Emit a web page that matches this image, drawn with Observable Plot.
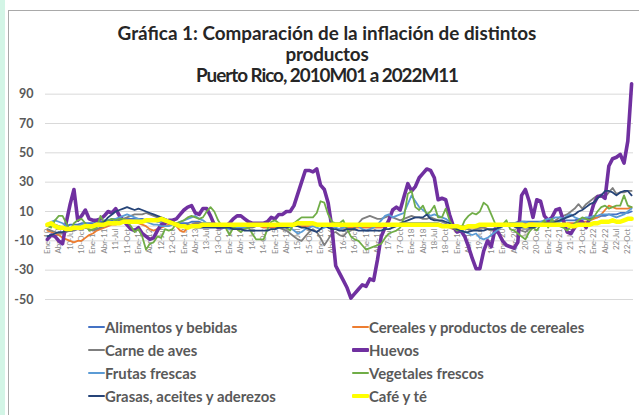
<!DOCTYPE html>
<html><head><meta charset="utf-8">
<script src="https://cdn.jsdelivr.net/npm/d3@7"></script>
<script src="https://cdn.jsdelivr.net/npm/@observablehq/plot@0.6"></script>
<style>
body{margin:0;background:#fff;}
#wrap{position:relative;width:639px;height:415px;overflow:hidden;font-family:Lato,"Open Sans",sans-serif;}
#mint{position:absolute;left:0;top:0;width:5px;height:415px;background:#d3f5e6;}
#frame{position:absolute;left:8px;top:10px;width:640px;height:420px;border-left:1.5px solid #a9a9a9;border-top:1.5px solid #a9a9a9;}
#chart{position:absolute;left:0;top:0;}
.tl{position:absolute;left:8px;width:638px;text-align:center;font-weight:700;color:#262626;white-space:nowrap;line-height:21px;}
.leg{position:absolute;font-weight:700;color:#595959;white-space:nowrap;line-height:16px;}
.sw{position:absolute;height:0;}
</style></head><body>
<div id="wrap">
  <div id="mint"></div>
  <div id="frame"></div>
  <div id="chart"></div>
</div>
<script>
// ---- Data (Puerto Rico, inflación interanual %, 2010M01 .. 2022M11) ----
const tickLabels = ["Ene-10","Abr-10","10-Jul","10-Oct","Ene-11","Abr-11","11-Jul","11-Oct",
  "Ene-12","Abr-12","12-Jul","12-Oct","Ene-13","Abr-13","13-Jul","13-Oct",
  "Ene-14","Abr-14","14-Jul","14-Oct","Ene-15","Abr-15","15-Jul","15-Oct",
  "Ene-16","Abr-16","16-Jul","16-Oct","Ene-17","Abr-17","17-Jul","17-Oct",
  "Ene-18","Abr-18","18-Jul","18-Oct","Ene-19","Abr-19","19-Jul","19-Oct",
  "Ene-20","Abr-20","20-Jul","20-Oct","Ene-21","Abr-21","21-Jul","21-Oct",
  "Ene-22","Abr-22","22-Jul","22-Oct"];
const yTicks = [90, 70, 50, 30, 10, -10, -30, -50];

const alimentos = [
  0,0,1,0,-1,0,1,1,1,2,2,2,
  2,3,3,4,4,4,5,5,5,5,5,5,
  5,5,4,4,4,3,3,3,3,3,2,2,
  2,2,3,3,3,2,2,2,2,1,1,1,
  1,1,1,1,1,1,1,1,1,1,1,1,
  1,1,1,1,1,2,2,2,2,2,1,1,
  1,0,0,0,0,0,-1,-1,-1,-1,0,0,
  0,0,0,0,1,1,1,1,1,1,2,2,
  2,2,2,2,2,2,2,2,1,1,0,0,
  0,0,0,0,0,-1,-1,0,0,0,0,0,
  1,1,2,2,3,3,3,3,3,3,3,3,
  3,3,3,3,4,4,4,4,5,5,5,5,
  6,6,7,7,8,8,8,9,9,9,10];
const cereales = [
  -3,-4,-5,-6,-8,-9,-10,-11,-10,-10,-8,-6,
  -5,-3,-2,-1,0,1,1,2,3,4,4,3,
  2,1,0,-2,-3,-2,-1,0,1,2,0,-3,
  -4,-1,1,2,2,1,1,1,1,0,0,0,
  0,0,0,0,0,0,0,0,0,-1,-1,-1,
  -1,-1,0,0,0,0,0,0,0,0,0,0,
  0,0,0,0,0,0,-1,-1,-1,-1,-1,-1,
  -1,-1,-1,-1,-1,0,0,0,1,1,1,1,
  1,1,1,1,1,1,1,1,1,0,-1,-2,
  -2,-2,-2,-1,-1,-1,-1,-1,0,0,0,0,
  0,0,1,1,2,2,2,2,2,1,1,1,
  1,1,1,1,1,2,2,2,2,3,3,4,
  5,6,8,11,14,13,12,12,12,12,13];
const carneAves = [
  -2,-3,-4,-5,-5,-4,-3,-3,-2,-2,-1,-2,
  -3,-2,-1,0,1,2,3,4,5,6,7,8,
  8,8,9,8,7,6,5,4,3,2,1,0,
  0,1,1,2,2,2,1,1,0,0,0,-1,
  -1,-1,-1,-2,-1,-1,-1,0,0,0,1,0,
  0,-1,-2,-3,-5,-7,-9,-10,-7,-4,-2,-4,
  -8,-13,-9,-5,-4,-6,-7,-4,-3,-1,2,5,
  6,7,6,5,5,6,7,6,5,4,5,6,
  7,6,6,5,5,6,5,4,3,2,0,-2,
  -3,-3,-2,-2,-3,-2,-1,-1,-2,-3,-2,-1,
  0,1,2,0,-2,-3,-4,-2,-1,0,1,0,
  1,2,4,6,7,8,10,12,15,12,15,17,
  19,21,20,20,23,26,22,23,23,24,24];
const huevos = [
  -9,-6,-7,-10,-12,3,15,25,4,7,11,5,
  4,4,5,7,10,9,12,7,4,1,-2,-3,
  -1,-5,-7,-9,-8,-3,1,2,4,4,5,8,
  11,13,14,9,8,12,12,7,1,-1,-1,0,
  2,5,7,7,5,3,2,2,2,2,3,6,
  5,8,8,10,10,14,22,30,38,38,37,39,
  28,25,16,-1,-27,-32,-37,-42,-49,-46,-43,-40,
  -41,-36,-37,-23,-7,-1,4,11,13,11,20,29,
  24,27,33,36,39,38,33,18,19,18,8,0,
  -4,-3,-7,-14,-22,-29,-29,-17,-10,-14,-2,-5,
  -10,-13,-14,-15,-11,21,25,17,6,18,17,7,
  4,6,11,12,4,-4,-5,-1,4,3,-1,6,
  15,20,21,19,41,46,47,49,43,58,97];
const frutas = [
  1,3,4,3,2,0,-2,-1,0,1,2,1,
  0,1,2,3,4,5,5,6,7,8,7,6,
  5,4,3,2,1,1,0,0,0,1,2,3,
  4,5,6,7,5,4,2,1,0,0,-1,-1,
  -2,-2,-1,-1,-1,0,0,0,1,1,0,0,
  0,1,1,0,-1,-3,-5,-4,-2,-1,0,-1,
  -2,-1,0,0,-1,-2,-1,0,1,1,0,-2,
  -3,-2,-1,1,4,7,8,6,7,8,9,15,
  21,17,13,11,9,7,8,7,6,5,3,-1,
  -2,-3,-4,-5,-6,-5,-8,-9,-8,-6,-4,-2,
  0,1,2,2,2,3,3,2,1,2,3,4,
  5,5,6,6,5,7,8,6,5,5,6,6,
  7,7,8,8,8,7,6,7,8,10,12];
const vegetales = [
  0,-1,4,7,7,2,-3,2,4,5,2,-3,
  -2,-1,7,2,4,5,4,5,5,3,0,-4,
  -2,-7,-16,-12,-11,-7,-8,-2,-3,-2,2,3,
  4,6,7,6,5,6,10,13,10,4,0,-1,
  -6,-1,-2,-4,-2,-1,-5,-9,-9,-9,-2,3,
  4,2,0,-1,-3,2,4,6,6,6,6,9,
  17,16,8,3,2,2,4,-2,-7,-9,-10,-13,
  -16,-15,-14,-13,-12,-8,-5,-4,-3,-1,6,22,
  24,13,11,14,8,10,14,6,6,12,4,-1,
  -3,-2,4,7,9,8,10,16,14,8,2,-1,
  1,4,-2,-3,-5,-7,-9,-4,-1,-3,1,4,
  -1,5,1,0,-1,-3,0,2,4,6,5,4,
  6,10,13,14,12,13,14,14,21,14,13];
const grasas = [
  -7,-6,-5,-4,-4,-3,-3,-2,-2,-1,-1,0,
  0,1,2,3,6,8,10,11,12,13,12,11,
  12,11,10,9,8,7,6,5,4,3,2,1,
  0,0,0,-1,-1,-1,-1,-1,-1,-1,-1,-1,
  -1,-2,-2,-2,-3,-3,-3,-3,-3,-3,-3,-2,
  -2,-1,-1,-1,0,0,0,-1,-1,-2,-3,-4,
  -2,1,-1,-2,-2,-3,-3,-2,-2,-2,-3,-3,
  -3,-3,-3,-3,-3,-2,-2,-1,0,2,3,4,
  5,6,6,6,8,5,4,4,4,3,2,-1,
  -2,-3,-4,-4,-3,-3,-3,-3,-2,-2,-2,-1,
  0,0,0,0,-1,-1,-1,-1,-1,0,1,2,
  2,2,3,4,5,6,7,8,10,11,13,15,
  16,19,21,24,24,23,21,23,24,24,21];
const cafe = [
  1,2,0,-1,-1,-2,-2,-1,-1,-1,0,0,
  0,1,1,1,2,2,2,2,3,3,3,3,
  3,3,4,4,4,4,5,4,3,2,1,0,
  0,-1,0,0,0,1,1,1,1,1,1,1,
  1,1,1,1,1,1,1,1,1,1,1,1,
  1,1,1,1,1,1,2,2,2,2,2,1,
  1,1,1,1,1,1,1,1,1,1,1,1,
  1,1,1,1,1,1,1,1,1,1,1,1,
  1,1,1,1,1,1,1,1,0,0,0,0,
  0,-1,-1,0,0,0,1,1,1,1,1,1,
  1,1,1,1,1,1,0,1,1,1,1,1,
  1,1,1,1,1,1,0,0,1,1,1,1,
  2,2,3,3,3,4,3,3,4,5,5];

const seriesNames = ["Alimentos y bebidas","Cereales y productos de cereales","Carne de aves","Huevos",
  "Frutas frescas","Vegetales frescos","Grasas,  aceites y aderezos","Café y té"];
const seriesValues = [alimentos, cereales, carneAves, huevos, frutas, vegetales, grasas, cafe];
const seriesColors = ["#4472C4","#ED7D31","#7F7F7F","#7030A0","#5B9BD5","#70AD47","#264478","#FFFF00"];
const seriesWidths = [1.8,1.8,1.8,3.6,1.8,1.8,1.8,4.5];

const titleLines = ["Gráfica 1: Comparación de la inflación de distintos","productos","Puerto Rico, 2010M01 a 2022M11"];
const titleWidths = [419, 83, 262];

// ---- font fitting helper ----
const ctx = document.createElement("canvas").getContext("2d");
function measure(text, size, weight, family){
  ctx.font = `${weight} ${size}px ${family}`;
  return ctx.measureText(text).width;
}
const FAM = "Lato";

// ---- Chart ----
const tickIdx = tickLabels.map((_, j) => j * 3);
const marks = [
  Plot.ruleY(yTicks, {stroke: "#d9d9d9", strokeWidth: 1}),
  Plot.ruleY([0], {stroke: "#d9d9d9", strokeWidth: 1}),
  Plot.text(yTicks, {y: d => d, text: d => String(d), frameAnchor: "left", textAnchor: "end", dx: -12,
    fontSize: 12.5, fontWeight: 700, fill: "#595959"}),
  Plot.text(tickIdx, {x: d => d, y: () => 0, text: (d, j) => tickLabels[j], rotate: -90, textAnchor: "end",
    dy: 2.5, fontSize: 8, fill: "#8a8a8a"}),
  ...seriesValues.map((vals, k) => Plot.line(vals, {x: (d, i) => i, y: d => d, stroke: seriesColors[k],
    strokeWidth: seriesWidths[k], strokeLinejoin: "round", strokeLinecap: "round"}))
];
const chart = Plot.plot({
  width: 639, height: 415,
  marginLeft: 45, marginRight: 6, marginTop: 79, marginBottom: 116,
  x: {domain: [-0.5, 154.5], axis: null},
  y: {domain: [-50, 100], axis: null},
  style: {background: "transparent", fontFamily: FAM},
  marks
});
document.getElementById("chart").appendChild(chart);

// ---- Title ----
const wrap = document.getElementById("wrap");
const tSize = 100 * titleWidths[0] / measure(titleLines[0], 100, 700, FAM);
titleLines.forEach((t, j) => {
  const d = document.createElement("div");
  d.className = "tl";
  d.textContent = t;
  d.style.fontSize = tSize + "px";
  const w = measure(t, tSize, 700, FAM);
  const ls = Math.max(-1.2, Math.min(0, (titleWidths[j] - w) / t.length));
  d.style.letterSpacing = ls + "px";
  d.style.top = (22 + j * 21) + "px";
  wrap.appendChild(d);
});

// ---- Legend ----
const lSize = 100 * 216 / measure(seriesNames[1], 100, 700, FAM);
seriesNames.forEach((name, k) => {
  const col = k % 2, row = Math.floor(k / 2);
  const x0 = col === 0 ? 88 : 352;
  const yc = 327 + row * 23;
  const sw = document.createElement("div");
  sw.className = "sw";
  const th = (k === 3 || k === 7) ? 4 : 2;
  sw.style.left = x0 + "px"; sw.style.width = "17px";
  sw.style.top = (yc - th / 2) + "px";
  sw.style.borderTop = `${th}px solid ${seriesColors[k]}`;
  sw.style.borderRadius = "1px";
  wrap.appendChild(sw);
  const t = document.createElement("div");
  t.className = "leg";
  t.textContent = name;
  t.style.fontSize = lSize + "px";
  t.style.left = (x0 + 17) + "px";
  t.style.top = (yc - 8) + "px";
  wrap.appendChild(t);
});
</script>
</body></html>
